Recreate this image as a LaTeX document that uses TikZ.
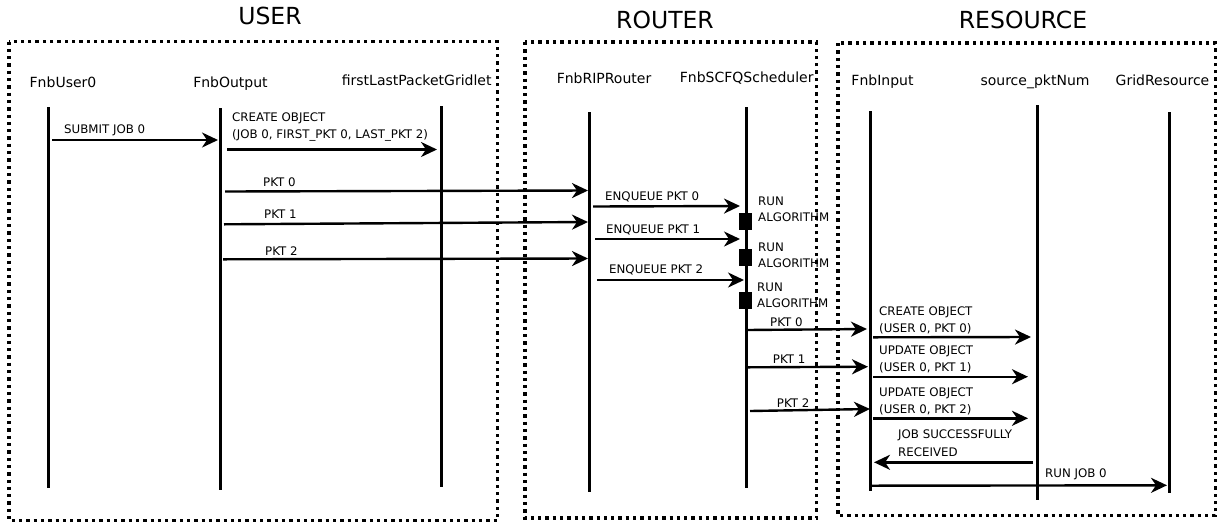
\documentclass[tikz,border=0pt]{standalone}
\usepackage{fontspec}
\setmainfont{DejaVu Sans}
\usetikzlibrary{arrows.meta}
\tikzset{
  box/.style={line width=3.3pt, dash pattern=on 3.3pt off 4pt},
  life/.style={line width=3pt},
  msg/.style={line width=2.4pt, -{Stealth[length=16pt,width=15pt,inset=5pt]}},
  ttl/.style={font=\fontsize{23.5}{28}\selectfont, anchor=mid, inner sep=0pt},
  actor/.style={font=\fontsize{14}{17}\selectfont, anchor=mid, inner sep=0pt},
  lbl/.style={font=\fontsize{11.8}{17.2}\selectfont, inner sep=0pt, anchor=north west, align=left},
  alg/.style={font=\fontsize{11.8}{16.3}\selectfont, inner sep=0pt, anchor=north west, align=left},
  actbox/.style={fill=black, minimum width=13pt, minimum height=17.5pt, inner sep=0pt}
}
\begin{document}
\begin{tikzpicture}[x=1pt,y=-1pt]
\useasboundingbox (0,0) rectangle (1222,523);

% group boxes
\draw[box] (9,41.5) rectangle (497.5,520.5);
\draw[box] (525,42) rectangle (816.5,518);
\draw[box] (838,43) rectangle (1215.5,515.5);
\node[ttl] (tuser) at (270,22) {USER};
\node[ttl] (trouter) at (665,25.5) {ROUTER};
\node[ttl] (tres) at (1023,25.5) {RESOURCE};

% actors
\node[actor] (nu0) at (63,84.5) {FnbUser0};
\node[actor] (nout) at (230.5,84.5) {FnbOutput};
\node[actor] (nflp) at (416.7,82.3) {firstLastPacketGridlet};
\node[actor] (nrip) at (604,81) {FnbRIPRouter};
\node[actor] (nsch) at (746.7,79.6) {FnbSCFQScheduler};
\node[actor] (ninp) at (882.5,83) {FnbInput};
\node[actor] (nspn) at (1035,82.3) {source\_pktNum};
\node[actor] (ngrd) at (1162.5,82.3) {GridResource};

% lifelines
\coordinate (u0t) at (48,107);   \coordinate (u0b) at (48,488);
\coordinate (outt) at (220,108); \coordinate (outb) at (220,490);
\coordinate (flpt) at (441,106); \coordinate (flpb) at (441,487);
\coordinate (ript) at (589,112); \coordinate (ripb) at (589,492);
\coordinate (scht) at (746,107); \coordinate (schb) at (746,488);
\coordinate (inpt) at (870,111); \coordinate (inpb) at (870,491);
\coordinate (spnt) at (1037,105); \coordinate (spnb) at (1037,500);
\coordinate (grdt) at (1169,112); \coordinate (grdb) at (1169,493);
\draw[life] (u0t) -- (u0b);
\draw[life] (outt) -- (outb);
\draw[life] (flpt) -- (flpb);
\draw[life] (ript) -- (ripb);
\draw[life] (scht) -- (schb);
\draw[life] (inpt) -- (inpb);
\draw[life] (spnt) -- (spnb);
\draw[life] (grdt) -- (grdb);

% activation boxes
\node[actbox] (a1) at (745.5,221.5) {};
\node[actbox] (a2) at (745.5,257.5) {};
\node[actbox] (a3) at (745.5,300.5) {};
\node[alg] (ra1) at (758,196.7) {RUN\\ALGORITHM};
\node[alg] (ra2) at (758,242.4) {RUN\\ALGORITHM};
\node[alg] (ra3) at (757,282.4) {RUN\\ALGORITHM};

% message endpoints
\coordinate (m1s) at (52,140);      \coordinate (m1e) at (218,140);
\coordinate (m2s) at (227,149.5);   \coordinate (m2e) at (437,149.5);
\coordinate (p0s) at (225,191.5);   \coordinate (p0e) at (588,190.5);
\coordinate (p1s) at (224,224.3);   \coordinate (p1e) at (588,222);
\coordinate (p2s) at (223,259.3);   \coordinate (p2e) at (588,258.5);
\coordinate (e0s) at (593,206.5);   \coordinate (e0e) at (740,206);
\coordinate (e1s) at (595,239);     \coordinate (e1e) at (740,239);
\coordinate (e2s) at (597,280);     \coordinate (e2e) at (744,280);
\coordinate (q0s) at (746.7,330);   \coordinate (q0e) at (867,329);
\coordinate (q1s) at (748,367.3);   \coordinate (q1e) at (868,366.7);
\coordinate (q2s) at (750,411);     \coordinate (q2e) at (870,409);
\coordinate (c0s) at (873,337.3);   \coordinate (c0e) at (1031,337);
\coordinate (c1s) at (873,376.7);   \coordinate (c1e) at (1028,376.7);
\coordinate (c2s) at (873,418.3);   \coordinate (c2e) at (1028,418.3);
\coordinate (js) at (1033,462.3);   \coordinate (je) at (874,462.3);
\coordinate (rs) at (870,485.7);    \coordinate (re) at (1167,485.3);

% messages
\draw[msg] (m1s) -- (m1e);
\draw[msg] (m2s) -- (m2e);
\draw[msg] (p0s) -- (p0e);
\draw[msg] (p1s) -- (p1e);
\draw[msg] (p2s) -- (p2e);
\draw[msg] (e0s) -- (e0e);
\draw[msg] (e1s) -- (e1e);
\draw[msg] (e2s) -- (e2e);
\draw[msg] (q0s) -- (q0e);
\draw[msg] (q1s) -- (q1e);
\draw[msg] (q2s) -- (q2e);
\draw[msg] (c0s) -- (c0e);
\draw[msg] (c1s) -- (c1e);
\draw[msg] (c2s) -- (c2e);
\draw[msg] (js) -- (je);
\draw[msg] (rs) -- (re);

% labels
\node[lbl] (l1) at (64,124.5) {SUBMIT JOB 0};
\node[lbl] (l2) at (232,112.7) {CREATE OBJECT\\(JOB 0, FIRST\_PKT 0, LAST\_PKT 2)};
\node[lbl] (l3) at (263,177.7) {PKT 0};
\node[lbl] (l4) at (264,209.7) {PKT 1};
\node[lbl] (l5) at (265,246.7) {PKT 2};
\node[lbl] (l6) at (605,191.7) {ENQUEUE PKT 0};
\node[lbl] (l7) at (606,224.7) {ENQUEUE PKT 1};
\node[lbl] (l8) at (609,264.7) {ENQUEUE PKT 2};
\node[lbl] (l9) at (770,317.4) {PKT 0};
\node[lbl] (l10) at (772.7,354.7) {PKT 1};
\node[lbl] (l11) at (776.7,399) {PKT 2};
\node[lbl] (l12) at (879,306.7) {CREATE OBJECT\\(USER 0, PKT 0)};
\node[lbl] (l13) at (879,345.7) {UPDATE OBJECT\\(USER 0, PKT 1)};
\node[lbl] (l14) at (879,387.4) {UPDATE OBJECT\\(USER 0, PKT 2)};
\node[lbl] (l15) at (898,430) {JOB SUCCESSFULLY\\RECEIVED};
\node[lbl] (l16) at (1045,468.4) {RUN JOB 0};
\end{tikzpicture}
\end{document}
